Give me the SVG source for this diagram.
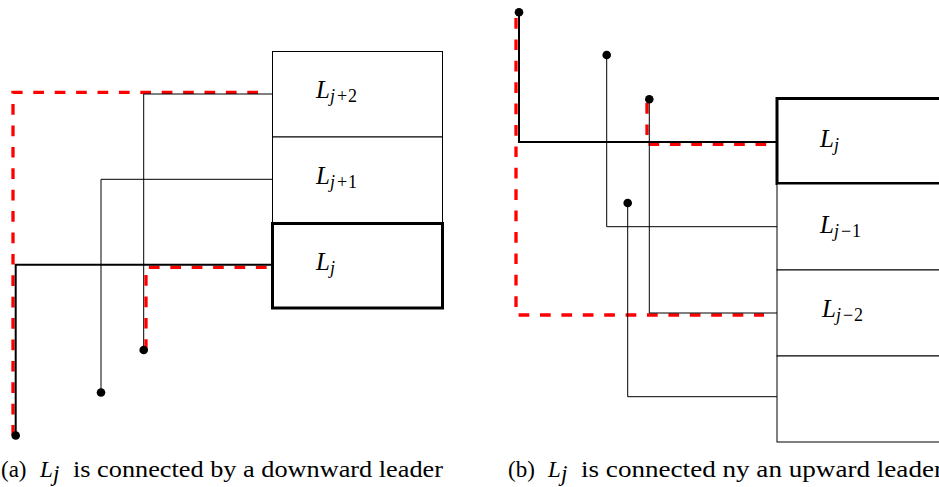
<svg xmlns="http://www.w3.org/2000/svg" width="939" height="487" viewBox="0 0 939 487">
<style>
.thin{fill:none;stroke:#000;stroke-width:1}
.thick{fill:none;stroke:#000;stroke-width:2}
.box{fill:#fff;stroke:#000;stroke-width:1}
.boxb{fill:#fff;stroke:#000;stroke-width:3}
.red{fill:none;stroke:#f00;stroke-width:3.3;stroke-dasharray:10.7 10.7}
.dot{fill:#000}
text{font-family:"Liberation Serif","DejaVu Serif",serif}
.lab{font-size:25px;font-style:italic}
.sub{font-size:18px}
.subn{font-style:normal}
.cap{font-size:23px}
.it{font-style:italic}
</style>
<g id="connectors">
  <polyline class="red" points="258,92.3 13,92.3 13,435"/>
  <polyline class="thin" points="272,94 143.7,94 143.7,350"/>
  <polyline class="thin" points="272,179.3 101,179.3 101,392"/>
  <polyline class="red" points="146,350 146,267.3 270,267.3"/>
  <polyline class="thick" points="272,264.7 15.7,264.7 15.7,435"/>
  <circle class="dot" cx="143.7" cy="350" r="4.3"/>
  <circle class="dot" cx="101" cy="392.5" r="4.3"/>
  <circle class="dot" cx="15.7" cy="435.5" r="4.3"/>
  <polyline class="red" points="516,18 516,315 764,315"/>
  <polyline class="red" points="647,103 647,144.3 767,144.3"/>
  <polyline class="thin" points="606.7,55 606.7,226.7 777,226.7"/>
  <polyline class="thin" points="649.3,99 649.3,313 777,313"/>
  <polyline class="thin" points="627.7,203 627.7,396.7 777,396.7"/>
  <polyline class="thick" points="519,12.3 519,142 777,142"/>
  <circle class="dot" cx="519" cy="12.3" r="4.3"/>
  <circle class="dot" cx="606.7" cy="55" r="4.3"/>
  <circle class="dot" cx="649.3" cy="99.3" r="4.3"/>
  <circle class="dot" cx="627.7" cy="203" r="4.3"/>
</g>
<g id="a-Lj2">
  <rect class="box" x="272.5" y="51.5" width="170" height="85.5"/>
  <text class="lab" x="316" y="98">L<tspan class="sub" dy="4">j</tspan><tspan class="sub subn" dx="2">+</tspan><tspan class="sub subn" dx="1">2</tspan></text>
</g>
<g id="a-Lj1">
  <rect class="box" x="272.5" y="137" width="170" height="86"/>
  <text class="lab" x="316" y="184">L<tspan class="sub" dy="4">j</tspan><tspan class="sub subn" dx="2">+</tspan><tspan class="sub subn" dx="1">1</tspan></text>
</g>
<g id="a-Lj">
  <rect class="boxb" x="272.5" y="223.5" width="170" height="84.5"/>
  <text class="lab" x="316" y="270">L<tspan class="sub" dy="4">j</tspan></text>
</g>
<g id="b-Lj">
  <rect class="boxb" x="777" y="98.5" width="170" height="85"/>
  <text class="lab" x="820" y="147">L<tspan class="sub" dy="4">j</tspan></text>
</g>
<g id="b-Lj1">
  <rect class="box" x="777" y="184" width="170" height="86"/>
  <text class="lab" x="820" y="233">L<tspan class="sub" dy="4">j</tspan><tspan class="sub subn" dx="2">−</tspan><tspan class="sub subn" dx="1">1</tspan></text>
</g>
<g id="b-Lj2">
  <rect class="box" x="777" y="270" width="170" height="86"/>
  <text class="lab" x="822" y="317">L<tspan class="sub" dy="4">j</tspan><tspan class="sub subn" dx="2">−</tspan><tspan class="sub subn" dx="1">2</tspan></text>
</g>
<g id="b-empty">
  <rect class="box" x="777" y="356" width="170" height="86"/>
</g>
<g id="captions">
  <text class="cap" x="1" y="477">(a)</text>
  <text class="cap it" x="40" y="477">L</text>
  <text class="cap it" x="53" y="481" font-size="16">j</text>
  <text class="cap" x="73" y="477" textLength="370" lengthAdjust="spacingAndGlyphs">is connected by a downward leader</text>
  <text class="cap" x="508" y="477">(b)</text>
  <text class="cap it" x="548" y="477">L</text>
  <text class="cap it" x="561" y="481" font-size="16">j</text>
  <text class="cap" x="581" y="477" textLength="362" lengthAdjust="spacingAndGlyphs">is connected ny an upward leader</text>
</g>
</svg>
